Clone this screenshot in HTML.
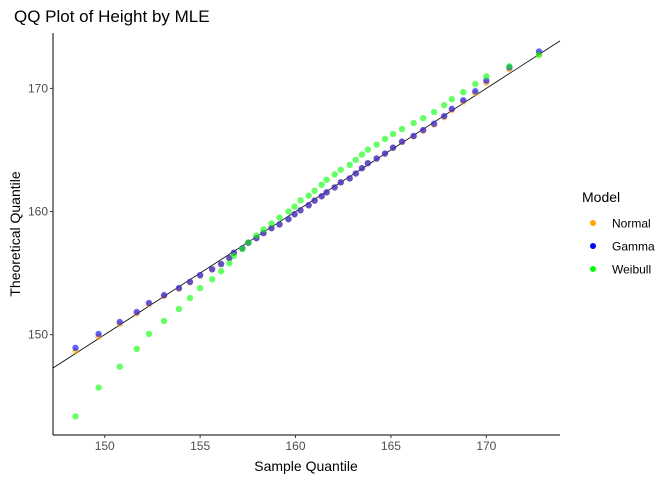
<!DOCTYPE html>
<html><head><meta charset="utf-8"><style>
body{margin:0;background:#fff;}
svg{display:block;font-family:"Liberation Sans",Arial,sans-serif;}
</style></head><body>
<svg id="chart" width="672" height="480" viewBox="0 0 672 480">
<text x="14" y="22" font-size="17" fill="#000">QQ Plot of Height by MLE</text>
<g id="axes"></g>
<g id="refline"></g>
<g id="points"></g>
<text x="306" y="471" font-size="14" text-anchor="middle" fill="#000">Sample Quantile</text>
<text transform="translate(20,234) rotate(-90)" font-size="14" text-anchor="middle" fill="#000">Theoretical Quantile</text>
<g>
<text x="582" y="202" font-size="14" fill="#000">Model</text>
<g><circle cx="593" cy="223" r="3" fill="#FFA500"/><text x="612" y="227.5" font-size="12" fill="#000">Normal</text></g>
<g><circle cx="593" cy="246" r="3" fill="#0000FF"/><text x="612" y="250.5" font-size="12" fill="#000">Gamma</text></g>
<g><circle cx="593" cy="269" r="3" fill="#00FF00"/><text x="612" y="273.5" font-size="12" fill="#000">Weibull</text></g>
</g>
</svg>
<script>
const sampleQ=[148.47,149.68,150.79,151.68,152.32,153.11,153.89,154.47,155.0,155.63,156.1,156.53,156.77,157.21,157.53,157.95,158.32,158.74,159.16,159.63,159.95,160.26,160.69,161.0,161.37,161.63,162.05,162.37,162.84,163.16,163.48,163.79,164.25,164.69,165.11,165.58,166.19,166.69,167.26,167.79,168.19,168.79,169.42,170.0,171.21,172.76];
const gammaQ=[148.93,150.06,151.03,151.84,152.57,153.21,153.78,154.29,154.83,155.31,155.74,156.23,156.66,157.01,157.47,157.84,158.25,158.65,158.95,159.38,159.78,160.1,160.51,160.89,161.24,161.56,161.96,162.37,162.69,163.09,163.52,163.93,164.31,164.71,165.19,165.68,166.14,166.62,167.13,167.75,168.34,169.04,169.77,170.63,171.71,173.0];
const normalQ=[148.66,149.85,150.88,151.72,152.47,153.14,153.73,154.25,154.8,155.29,155.73,156.22,156.65,157.0,157.46,157.83,158.24,158.64,158.95,159.38,159.78,160.1,160.51,160.89,161.24,161.56,161.96,162.37,162.69,163.09,163.52,163.92,164.29,164.69,165.16,165.64,166.09,166.56,167.06,167.66,168.24,168.92,169.62,170.46,171.55,172.8];
const weibullQ=[143.36,145.7,147.4,148.85,150.06,151.11,152.08,152.97,153.78,154.5,155.15,155.8,156.39,156.96,157.49,158.06,158.54,159.03,159.51,160.0,160.4,160.91,161.29,161.69,162.18,162.58,163.01,163.39,163.79,164.2,164.63,165.03,165.44,165.89,166.3,166.7,167.19,167.59,168.08,168.64,169.13,169.69,170.36,170.98,171.79,172.71];
const xTicks=[150,155,160,165,170];
const yTicks=[150,160,170];

const NS='http://www.w3.org/2000/svg';
const L=53,R=560,T=33,B=435;
const xMin=147.29,xMax=173.86,yMin=141.85,yMax=174.5;
function sx(v){return L+(v-xMin)/(xMax-xMin)*(R-L);}
function sy(v){return B-(v-yMin)/(yMax-yMin)*(B-T);}
function mk(tag,attrs,parent){const e=document.createElementNS(NS,tag);for(const k in attrs)e.setAttribute(k,attrs[k]);parent.appendChild(e);return e;}

const axes=document.getElementById('axes');
const xa=mk('line',{x1:L,y1:B,x2:R,y2:B,stroke:'#000','stroke-width':1},axes);


const ya=mk('line',{x1:L,y1:T,x2:L,y2:B,stroke:'#000','stroke-width':1},axes);


xTicks.forEach(t=>{
  const x=sx(t);
  const tk=mk('line',{x1:x,y1:B,x2:x,y2:B+3,stroke:'#333'},axes);
  
  
  const tx=mk('text',{x:x,y:B+15,'font-size':12,'text-anchor':'middle',fill:'#4d4d4d'},axes);
  tx.textContent=t;
  
  
});
yTicks.forEach(t=>{
  const y=sy(t);
  const tk=mk('line',{x1:L-3,y1:y,x2:L,y2:y,stroke:'#333'},axes);
  
  
  const tx=mk('text',{x:L-5,y:y+4,'font-size':12,'text-anchor':'end',fill:'#4d4d4d'},axes);
  tx.textContent=t;
  
  
});

const rl=mk('line',{x1:sx(xMin),y1:sy(xMin),x2:sx(xMax),y2:sy(xMax),stroke:'#000','stroke-width':0.8},document.getElementById('refline'));



const pts=document.getElementById('points');
[['normal',normalQ,'#FFA500'],['gamma',gammaQ,'#0000FF'],['weibull',weibullQ,'#00FF00']].forEach(([name,arr,col])=>{
  const g=mk('g',{},pts);
  
  
  arr.forEach((v,i)=>{
    const c=mk('circle',{cx:sx(sampleQ[i]),cy:sy(v),r:3.2,fill:col,'fill-opacity':0.6},g);
    
    
  });
});
</script>
</body></html>
